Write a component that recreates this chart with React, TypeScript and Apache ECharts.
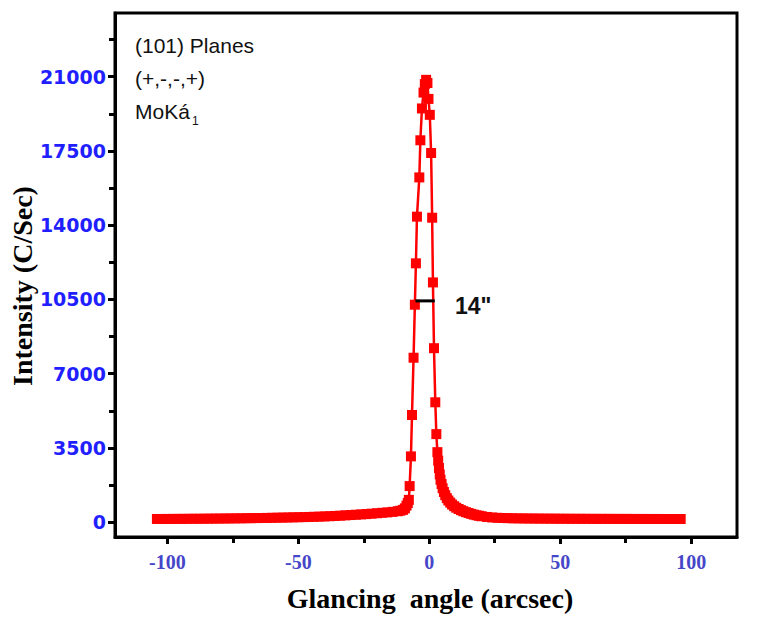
import React, { useEffect, useRef } from 'react';
import * as echarts from 'echarts';

// Glancing angle (arcsec) and measured intensity (C/Sec)
const angle = [
  -104, -102, -100, -98, -96, -94, -92, -90, -88, -86, -84, -82, -80, -78, -76, -74, -72, -70,
  -68, -66, -64, -62, -60, -58, -56, -54, -52, -50, -48, -46, -44, -42, -40, -38, -36, -34,
  -32, -30, -28, -26, -24, -22, -20, -18, -16, -14, -12, -11, -10, -9.3, -8.7, -8.2,
  -7.8, -7.5, -7.0, -6.6, -6.0, -5.5, -5.1, -4.7, -3.8, -3.4, -2.8, -2.2, -1.7, -1.2, -0.7, -0.3,
  0.2, 0.7, 1.1, 1.4, 1.8, 2.3, 2.7, 3.1,
  3.4, 3.7, 4.0, 4.3, 4.7, 5.1, 5.6, 6.1, 6.7, 7.3, 8.0, 8.7, 9.5, 10.3, 11.2, 12.1, 13.0,
  14, 15, 16, 17, 18, 19, 20, 22, 24, 26, 28, 30, 32, 34, 36, 38, 40, 42, 44, 46, 48, 50,
  52, 54, 56, 58, 60, 62, 64, 66, 68, 70, 72, 74, 76, 78, 80, 82, 84, 86, 88, 90, 92, 94, 96,
];
const intensity = [
  150, 150, 152, 152, 155, 155, 158, 160, 160, 163, 165, 168, 170, 172, 175, 178, 180, 185,
  188, 192, 195, 200, 205, 210, 215, 220, 226, 232, 238, 245, 252, 260, 270, 280, 292, 305,
  320, 335, 350, 365, 380, 400, 420, 440, 460, 485, 515, 540, 580, 650, 780, 900,
  1050, 1700, 3100, 5050, 7750, 10250, 12200, 14400, 16250, 18000, 19500, 20250, 20650, 20850, 20700, 19950,
  19200, 17400, 14350, 11300, 8200, 5650, 4150, 3300,
  2900, 2550, 2250, 2000, 1800, 1600, 1420, 1270, 1130, 1020, 920, 830, 750, 680, 620, 565, 515,
  470, 430, 390, 355, 325, 300, 278, 245, 220, 205, 195, 188, 182, 178, 175, 172, 170, 168, 166, 165, 164, 162,
  160, 160, 158, 158, 157, 156, 155, 155, 155, 154, 153, 153, 152, 152, 151, 151, 150, 150, 150, 149, 149, 148, 148,
];

const yTicks = [0, 3500, 7000, 10500, 14000, 17500, 21000];
const yMinorTicks = [1750, 5250, 8750, 12250, 15750, 19250, 22750];
const xTicks = [-100, -50, 0, 50, 100];
const xMinorTicks = [-75, -25, 25, 75];

// FWHM marker
const fwhmAngles = [-5.3, 2.1];
const fwhmLevel = 10430;
const fwhmLabel = '14"';

const noteLines = ['(101) Planes', '(+,-,-,+)', 'MoKá'];
const noteSub = '1';

const X_MIN = -120;
const X_MAX = 117.5;
const Y_MIN = -700;
const Y_MAX = 24000;

export default function App() {
  const ref = useRef<HTMLDivElement>(null);

  useEffect(() => {
    if (!ref.current) return;
    const chart = echarts.init(ref.current, undefined, { renderer: 'svg' });
    const black = '#000000';
    const tickStyle = { color: black, width: 3 };
    const option: any = {
      animation: false,
      backgroundColor: '#ffffff',
      grid: {
        left: 115,
        right: 25,
        top: 13,
        bottom: 82,
        show: true,
        borderColor: black,
        borderWidth: 3,
        backgroundColor: 'transparent',
      },
      xAxis: [
        {
          type: 'value',
          min: X_MIN,
          max: X_MAX,
          position: 'bottom',
          axisLine: { show: true, onZero: false, lineStyle: { color: black, width: 3 } },
          axisTick: { show: true, customValues: xTicks, length: 7, lineStyle: tickStyle },
          axisLabel: {
            customValues: xTicks,
            formatter: (v: number) => String(v),
            color: '#4646c8',
            fontFamily: '"Liberation Serif", serif',
            fontWeight: 'bold',
            fontSize: 20,
            margin: 15,
          },
          splitLine: { show: false },
        },
        {
          type: 'value',
          min: X_MIN,
          max: X_MAX,
          position: 'bottom',
          axisLine: { show: false, onZero: false },
          axisTick: { show: true, customValues: xMinorTicks, length: 6, lineStyle: tickStyle },
          axisLabel: { show: false },
          splitLine: { show: false },
        },
      ],
      yAxis: [
        {
          type: 'value',
          min: Y_MIN,
          max: Y_MAX,
          position: 'left',
          axisLine: { show: true, onZero: false, lineStyle: { color: black, width: 3 } },
          axisTick: { show: true, customValues: yTicks, length: 7, lineStyle: tickStyle },
          axisLabel: {
            customValues: yTicks,
            formatter: (v: number) => String(v),
            color: '#1f1fff',
            fontFamily: '"DejaVu Sans", sans-serif',
            fontWeight: 'bold',
            fontSize: 19,
            margin: 9,
          },
          splitLine: { show: false },
        },
        {
          type: 'value',
          min: Y_MIN,
          max: Y_MAX,
          position: 'left',
          axisLine: { show: false, onZero: false },
          axisTick: { show: true, customValues: yMinorTicks, length: 6, lineStyle: tickStyle },
          axisLabel: { show: false },
          splitLine: { show: false },
        },
      ],
      series: [
        {
          type: 'line',
          xAxisIndex: 0,
          yAxisIndex: 0,
          data: angle.map((a, i) => [a, intensity[i]]),
          symbol: 'rect',
          symbolSize: 10,
          showAllSymbol: true,
          itemStyle: { color: '#ff0000' },
          lineStyle: { color: '#ff0000', width: 2.5 },
          z: 3,
        },
        {
          type: 'line',
          xAxisIndex: 0,
          yAxisIndex: 0,
          data: fwhmAngles.map((a) => [a, fwhmLevel]),
          symbol: 'none',
          lineStyle: { color: black, width: 3 },
          z: 4,
        },
      ],
      graphic: [
        {
          type: 'text',
          x: 22,
          y: 286,
          rotation: Math.PI / 2,
          style: {
            text: 'Intensity (C/Sec)',
            font: 'bold 28px "Liberation Serif", serif',
            fill: black,
            textAlign: 'center',
            textVerticalAlign: 'middle',
          },
        },
        {
          type: 'text',
          x: 430,
          y: 598,
          style: {
            text: 'Glancing  angle (arcsec)',
            font: 'bold 28px "Liberation Serif", serif',
            fill: black,
            textAlign: 'center',
            textVerticalAlign: 'middle',
          },
        },
        ...noteLines.map((t, i) => ({
          type: 'text',
          x: 135,
          y: 45 + i * 33,
          style: {
            text: t,
            font: '21px "Liberation Sans", Arial, sans-serif',
            fill: '#111111',
            textAlign: 'left',
            textVerticalAlign: 'middle',
          },
        })),
        {
          type: 'text',
          x: 192,
          y: 121,
          style: {
            text: noteSub,
            font: '12px "Liberation Sans", Arial, sans-serif',
            fill: '#111111',
            textAlign: 'left',
            textVerticalAlign: 'middle',
          },
        },
        {
          type: 'text',
          x: 455,
          y: 306,
          style: {
            text: fwhmLabel,
            font: 'bold 23px "Liberation Sans", Arial, sans-serif',
            fill: '#111111',
            textAlign: 'left',
            textVerticalAlign: 'middle',
          },
        },
      ],
    };
    chart.setOption(option);
    return () => {
      chart.dispose();
    };
  }, []);

  return (
    <div
      ref={ref}
      style={{ position: 'fixed', left: 0, top: 0, width: 762, height: 619, background: '#fff' }}
    />
  );
}
